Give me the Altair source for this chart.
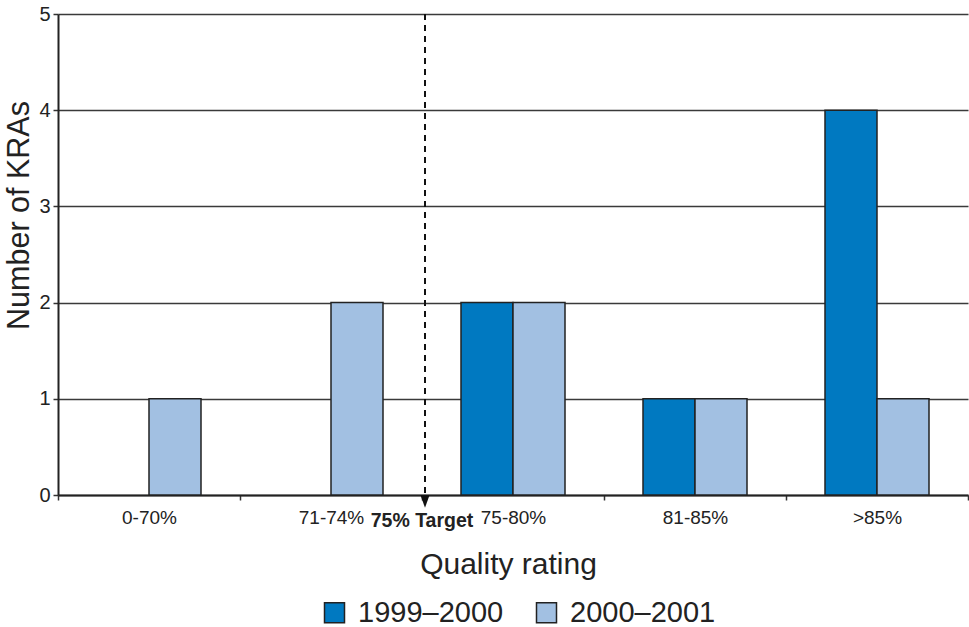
import altair as alt
import pandas as pd

# Quality rating bands and number of KRAs in each, per year
categories = ["0-70%", "71-74%", "75-80%", "81-85%", ">85%"]
series = ["1999\u20132000", "2000\u20132001"]
kras_1999_2000 = [0, 0, 2, 1, 4]
kras_2000_2001 = [1, 2, 2, 1, 1]
colors = ["#0079C1", "#A2C0E2"]

# Target marker sits at the lower edge of the 75-80% band
target_band = "75-80%"
target_label = "75% Target"

FONT = "Liberation Sans"

rows = []
for cat, a, b in zip(categories, kras_1999_2000, kras_2000_2001):
    rows.append({"rating": cat, "year": series[0], "count": a})
    rows.append({"rating": cat, "year": series[1], "count": b})
df = pd.DataFrame(rows)

target_df = pd.DataFrame({"rating": [target_band], "top": [5], "base": [0], "label": [target_label]})

x_scale = alt.Scale(domain=categories, paddingInner=0, paddingOuter=0)
y_scale = alt.Scale(domain=[0, 5], nice=False)

bars = alt.Chart(df).transform_filter("datum.count > 0").mark_bar(
    stroke="#222222", strokeWidth=1.5
).encode(
    x=alt.X(
        "rating:N",
        scale=x_scale,
        sort=categories,
        axis=alt.Axis(
            title="Quality rating",
            labelAngle=0,
            labelFontSize=19,
            labelColor="#222222",
            labelFont=FONT,
            labelPadding=8,
            tickBand="extent",
            tickSize=5,
            tickColor="#333333",
            tickWidth=1.5,
            domainColor="#222222",
            domainWidth=2,
            titleFontSize=30,
            titleFont=FONT,
            titleFontWeight="normal",
            titleColor="#222222",
            titleBaseline="alphabetic",
            titleX=450,
            titleY=78,
            grid=False,
        ),
    ),
    xOffset=alt.XOffset(
        "year:N",
        scale=alt.Scale(domain=series, paddingInner=0, paddingOuter=0.75),
    ),
    y=alt.Y(
        "count:Q",
        scale=y_scale,
        axis=alt.Axis(
            title="Number of KRAs",
            values=[0, 1, 2, 3, 4, 5],
            format="d",
            labelFontSize=20,
            labelColor="#222222",
            labelFont=FONT,
            labelPadding=3,
            tickSize=5,
            tickColor="#333333",
            tickWidth=1.5,
            domainColor="#222222",
            domainWidth=2,
            grid=True,
            gridColor="#3a3a3a",
            gridWidth=1.5,
            titleFontSize=30.5,
            titleFont=FONT,
            titleFontWeight="normal",
            titleColor="#222222",
            titleAngle=-90,
            titleAlign="center",
            titleBaseline="alphabetic",
            titleX=-30,
            titleY=201,
        ),
    ),
    color=alt.Color(
        "year:N",
        scale=alt.Scale(domain=series, range=colors),
        legend=alt.Legend(
            title=None,
            orient="none",
            direction="horizontal",
            legendX=262,
            legendY=584,
            symbolType="square",
            symbolSize=400,
            symbolStrokeColor="#222222",
            symbolStrokeWidth=1.5,
            symbolOpacity=1,
            labelFontSize=29,
            labelFont=FONT,
            labelColor="#222222",
            labelOffset=9,
            columnPadding=28,
        ),
    ),
)

target_line = alt.Chart(target_df).mark_rule(
    color="#111111", strokeWidth=2, strokeDash=[6, 5], xOffset=3
).encode(
    x=alt.X("rating:N", scale=x_scale, bandPosition=0),
    y=alt.Y("top:Q", scale=y_scale),
    y2="base:Q",
)

target_arrow = alt.Chart(target_df).mark_point(
    shape="M-1,-1.4L1,-1.4L0,1.4Z",
    filled=True,
    color="#111111",
    opacity=1,
    size=81,
    xOffset=3,
    yOffset=6.5,
).encode(
    x=alt.X("rating:N", scale=x_scale, bandPosition=0),
    y=alt.Y("base:Q", scale=y_scale),
)

target_text = alt.Chart(target_df).mark_text(
    font=FONT,
    fontSize=19.5,
    fontWeight="bold",
    color="#222222",
    baseline="alphabetic",
    align="center",
    dy=32,
).encode(
    x=alt.X("rating:N", scale=x_scale, bandPosition=0),
    y=alt.Y("base:Q", scale=y_scale),
    text="label:N",
)

chart = alt.layer(bars, target_line, target_arrow, target_text).properties(
    width=910,
    height=481,
    autosize=alt.AutoSizeParams(type="none"),
    padding={"left": 58, "top": 14, "right": 1, "bottom": 132},
    background="white",
).configure_view(stroke=None)

chart.save("out.html", embed_options={"renderer": "svg", "actions": False})
